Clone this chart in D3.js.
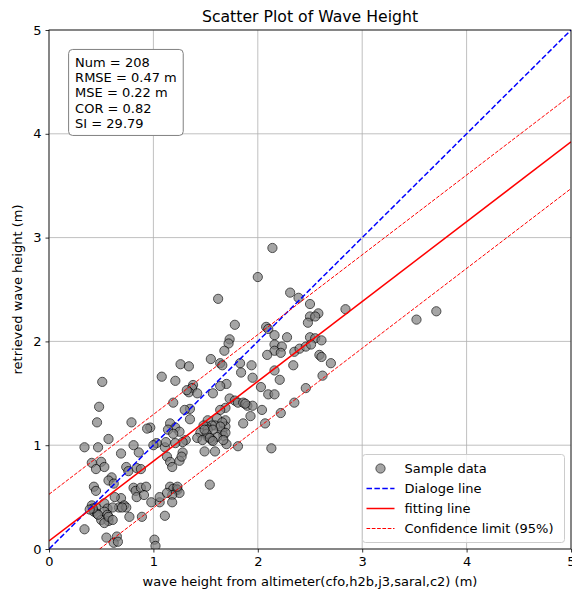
<!DOCTYPE html>
<html>
<head>
<meta charset="utf-8">
<script src="https://cdn.jsdelivr.net/npm/d3@7/dist/d3.min.js"></script>
<style>
    html, body { margin: 0; padding: 0; background: #fff; }
    svg { display: block; font-family: 'DejaVu Sans', sans-serif; }
</style>
</head>
<body>
<div id="chart"></div>
<script>
'use strict'

const altimeterHs = [
    2.14, 2.00, 1.62, 2.31, 2.39, 2.50, 2.58, 2.50, 2.55, 2.48,
    2.84, 3.52, 3.71, 1.78, 2.08, 2.10, 2.16, 2.28, 1.22, 2.50,
    2.55, 2.61, 1.73, 1.72, 1.68, 2.16, 2.23, 2.16, 2.22, 2.35,
    2.40, 2.46, 2.51, 2.59, 2.61, 2.09, 2.34, 2.70, 2.62, 2.46,
    2.35, 2.22, 2.07, 2.13, 1.64, 1.83, 1.94, 1.84, 2.16, 2.21,
    1.95, 2.03, 1.70, 1.64, 2.10, 2.16, 1.73, 1.78, 1.81, 1.86,
    1.90, 1.95, 1.69, 1.64, 2.04, 1.93, 1.86, 1.69, 1.69, 1.66,
    1.67, 1.70, 1.81, 1.55, 1.66, 1.26, 1.34, 1.08, 1.21, 1.38,
    1.37, 1.34, 1.42, 1.57, 1.19, 1.35, 1.30, 1.35, 1.61, 1.66,
    1.59, 1.64, 1.52, 1.56, 1.51, 1.48, 1.45, 1.52, 1.61, 1.56,
    1.42, 1.31, 1.28, 1.16, 1.21, 1.14, 1.25, 1.19, 0.97, 1.03,
    1.00, 1.11, 1.49, 1.59, 1.28, 1.13, 1.16, 1.25, 1.27, 1.18,
    1.54, 1.16, 1.19, 1.23, 1.25, 1.18, 0.51, 0.48, 0.46, 0.79,
    0.94, 0.57, 0.34, 0.47, 0.69, 0.81, 0.86, 0.41, 0.50, 0.53,
    0.45, 0.74, 0.76, 0.60, 0.57, 0.62, 0.84, 0.88, 0.81, 0.83,
    0.88, 0.93, 0.84, 0.91, 0.98, 1.06, 1.06, 0.43, 0.45, 0.41,
    0.45, 0.43, 0.46, 0.53, 0.56, 0.53, 0.50, 0.56, 0.57, 0.53,
    0.69, 0.72, 0.67, 0.74, 0.63, 0.77, 0.89, 1.11, 0.34, 0.55,
    0.65, 0.62, 0.66, 1.01, 1.02, 1.12, 1.21, 1.52, 1.57, 1.51,
    1.47, 1.54, 1.57, 1.69, 1.67, 1.49, 1.32, 1.88, 1.18, 1.23,
    1.13, 0.61, 0.70, 0.47, 0.57, 0.61, 0.42, 0.39
]

const retrievedHs = [
    2.90, 2.62, 2.41, 2.47, 2.42, 2.36, 2.27, 2.24, 2.24, 2.18,
    2.31, 2.21, 2.29, 2.16, 2.14, 2.12, 2.06, 2.04, 0.58, 2.04,
    2.03, 2.01, 2.02, 1.98, 1.91, 1.97, 1.95, 1.91, 1.89, 1.90,
    1.93, 1.95, 1.97, 1.87, 1.85, 1.87, 1.77, 1.79, 1.67, 1.55,
    1.41, 1.31, 1.21, 0.97, 1.79, 1.79, 1.77, 1.70, 1.72, 1.63,
    1.65, 1.56, 1.59, 1.57, 1.49, 1.49, 1.45, 1.43, 1.41, 1.41,
    1.38, 1.38, 1.36, 1.34, 1.34, 1.28, 1.21, 1.24, 1.18, 1.13,
    1.09, 1.01, 0.99, 1.83, 1.77, 1.78, 1.76, 1.66, 1.62, 1.58,
    1.55, 1.51, 1.50, 1.50, 1.41, 1.35, 1.34, 1.25, 1.26, 1.22,
    1.19, 1.18, 1.24, 1.19, 1.18, 1.19, 1.12, 1.08, 1.08, 1.05,
    1.07, 1.05, 1.03, 1.21, 1.17, 1.15, 1.13, 1.11, 1.17, 1.02,
    1.00, 0.98, 0.94, 0.94, 0.93, 0.89, 0.84, 0.85, 0.89, 0.79,
    0.62, 0.60, 0.58, 0.57, 0.54, 0.52, 1.61, 1.37, 1.22, 1.22,
    1.16, 1.06, 0.98, 0.98, 0.92, 1.00, 0.93, 0.83, 0.84, 0.79,
    0.77, 0.79, 0.75, 0.69, 0.66, 0.63, 0.78, 0.77, 0.59, 0.56,
    0.59, 0.60, 0.50, 0.52, 0.45, 0.45, 0.50, 0.60, 0.56, 0.42,
    0.40, 0.36, 0.34, 0.44, 0.39, 0.36, 0.28, 0.33, 0.27, 0.25,
    0.49, 0.42, 0.40, 0.40, 0.50, 0.31, 0.31, 0.32, 0.19, 0.11,
    0.12, 0.06, 0.07, 0.09, 0.03, 1.03, 1.02, 1.15, 1.15, 1.11,
    1.05, 1.07, 1.04, 1.12, 1.05, 1.15, 1.53, 1.40, 0.45, 0.60,
    0.54, 0.40, 0.40, 0.33, 0.31, 0.28, 0.39, 0.38
]

const fitSlope = 0.769,
    fitIntercept = 0.077,
    confHalfWidth = 0.45

const statLines = ['Num = 208', 'RMSE = 0.47 m', 'MSE = 0.22 m', 'COR = 0.82', 'SI = 29.79']
const tickValues = [0, 1, 2, 3, 4, 5]
const legendItems = [
    { label: 'Sample data', kind: 'dot' },
    { label: 'Dialoge line', kind: 'line', color: 'blue', dash: '5.5,2.4', width: 1.5 },
    { label: 'fitting line', kind: 'line', color: 'red', dash: null, width: 1.5 },
    { label: 'Confidence limit (95%)', kind: 'line', color: 'red', dash: '3.7,1.6', width: 1 }
]

const width = 572,
    height = 593,
    margin = { top: 30, right: 1, bottom: 44, left: 49 },
    innerW = width - margin.left - margin.right,
    innerH = height - margin.top - margin.bottom,
    fontSize = 13

const svg = d3.select('#chart')
    .append('svg')
    .attr('width', width)
    .attr('height', height)

const x = d3.scaleLinear().domain([0, 5]).range([0, innerW])
const y = d3.scaleLinear().domain([0, 5]).range([innerH, 0])

const g = svg.append('g')
    .attr('transform', `translate(${margin.left},${margin.top})`)

// grid
g.append('g').selectAll('line')
    .data(tickValues)
    .join('line')
    .attr('x1', d => x(d)).attr('x2', d => x(d))
    .attr('y1', 0).attr('y2', innerH)
    .attr('stroke', '#b0b0b0').attr('stroke-width', 0.8)

g.append('g').selectAll('line')
    .data(tickValues)
    .join('line')
    .attr('y1', d => y(d)).attr('y2', d => y(d))
    .attr('x1', 0).attr('x2', innerW)
    .attr('stroke', '#b0b0b0').attr('stroke-width', 0.8)

const clip = svg.append('clipPath').attr('id', 'plotclip')
clip.append('rect').attr('width', innerW).attr('height', innerH)

const plot = g.append('g').attr('clip-path', 'url(#plotclip)')

const points = altimeterHs.map((v, i) => ({ x: v, y: retrievedHs[i] }))

plot.selectAll('circle')
    .data(points)
    .join('circle')
    .attr('cx', d => x(d.x))
    .attr('cy', d => y(d.y))
    .attr('r', 4.6)
    .attr('fill', '#808080')
    .attr('stroke', '#000')
    .attr('stroke-width', 1)
    .attr('opacity', 0.7)

const line = d3.line().x(d => x(d[0])).y(d => y(d[1]))
const xs = [0, 5]

plot.append('path')
    .attr('d', line(xs.map(v => [v, v])))
    .attr('fill', 'none').attr('stroke', 'blue').attr('stroke-width', 1.5)
    .attr('stroke-dasharray', '5.5,2.4')

plot.append('path')
    .attr('d', line(xs.map(v => [v, fitIntercept + fitSlope * v])))
    .attr('fill', 'none').attr('stroke', 'red').attr('stroke-width', 1.5)

;[confHalfWidth, -confHalfWidth].forEach(off => {
    plot.append('path')
        .attr('d', line(xs.map(v => [v, fitIntercept + fitSlope * v + off])))
        .attr('fill', 'none').attr('stroke', 'red').attr('stroke-width', 1)
        .attr('stroke-dasharray', '3.7,1.6')
})

// axes
const xAxis = g.append('g')
    .attr('transform', `translate(0,${innerH})`)
    .call(d3.axisBottom(x).tickValues(tickValues).tickFormat(d3.format('d')).tickSize(3.5).tickPadding(4))
const yAxis = g.append('g')
    .call(d3.axisLeft(y).tickValues(tickValues).tickFormat(d3.format('d')).tickSize(3.5).tickPadding(4))

;[xAxis, yAxis].forEach(a => {
    a.select('.domain').remove()
    a.selectAll('text').attr('font-size', fontSize).attr('font-family', 'DejaVu Sans').attr('fill', '#000')
    a.selectAll('line').attr('stroke', '#000').attr('stroke-width', 0.8)
})

g.append('rect')
    .attr('width', innerW).attr('height', innerH)
    .attr('fill', 'none').attr('stroke', '#000').attr('stroke-width', 0.8)

// titles
svg.append('text')
    .attr('x', margin.left + innerW / 2).attr('y', 22)
    .attr('text-anchor', 'middle').attr('font-size', 15.7)
    .text('Scatter Plot of Wave Height')

svg.append('text')
    .attr('x', margin.left + innerW / 2).attr('y', 586)
    .attr('text-anchor', 'middle').attr('font-size', fontSize)
    .text('wave height from altimeter(cfo,h2b,j3,saral,c2) (m)')

svg.append('text')
    .attr('transform', `translate(22,${margin.top + innerH / 2}) rotate(-90)`)
    .attr('text-anchor', 'middle').attr('font-size', fontSize)
    .text('retrieved wave height (m)')

// stats box
const statG = g.append('g').attr('transform', `translate(${innerW * 0.05},${innerH * 0.05})`)
const statText = statG.append('text').attr('font-size', fontSize)
statText.selectAll('tspan')
    .data(statLines)
    .join('tspan')
    .attr('x', 0)
    .attr('y', (d, i) => 11 + i * 15.2)
    .text(d => d)
const sb = statText.node().getBBox()
statG.insert('rect', 'text')
    .attr('x', -6.5).attr('y', -6.5)
    .attr('width', sb.width + 13).attr('height', 5 * 15.2 + 10)
    .attr('rx', 4)
    .attr('fill', '#fff').attr('stroke', '#808080').attr('stroke-width', 1)

// legend
const rowH = 20,
    legW = 202,
    legH = legendItems.length * rowH + 8,
    legX = innerW - 6.5 - legW,
    legY = innerH - 6.5 - legH

const leg = g.append('g').attr('transform', `translate(${legX},${legY})`)
leg.append('rect')
    .attr('width', legW).attr('height', legH).attr('rx', 3)
    .attr('fill', '#fff').attr('fill-opacity', 0.8)
    .attr('stroke', '#ccc').attr('stroke-width', 1)

const rows = leg.selectAll('g.row')
    .data(legendItems)
    .join('g')
    .attr('transform', (d, i) => `translate(4,${14 + i * rowH})`)

rows.filter(d => d.kind === 'dot')
    .append('circle')
    .attr('cx', 14).attr('cy', 0).attr('r', 4.6)
    .attr('fill', '#808080').attr('stroke', '#000').attr('opacity', 0.7)

rows.filter(d => d.kind === 'line')
    .append('line')
    .attr('x1', 0).attr('x2', 28).attr('y1', 0).attr('y2', 0)
    .attr('stroke', d => d.color)
    .attr('stroke-width', d => d.width)
    .attr('stroke-dasharray', d => d.dash)

rows.append('text')
    .attr('x', 38).attr('y', 4.5)
    .attr('font-size', fontSize)
    .text(d => d.label)
</script>
</body>
</html>
